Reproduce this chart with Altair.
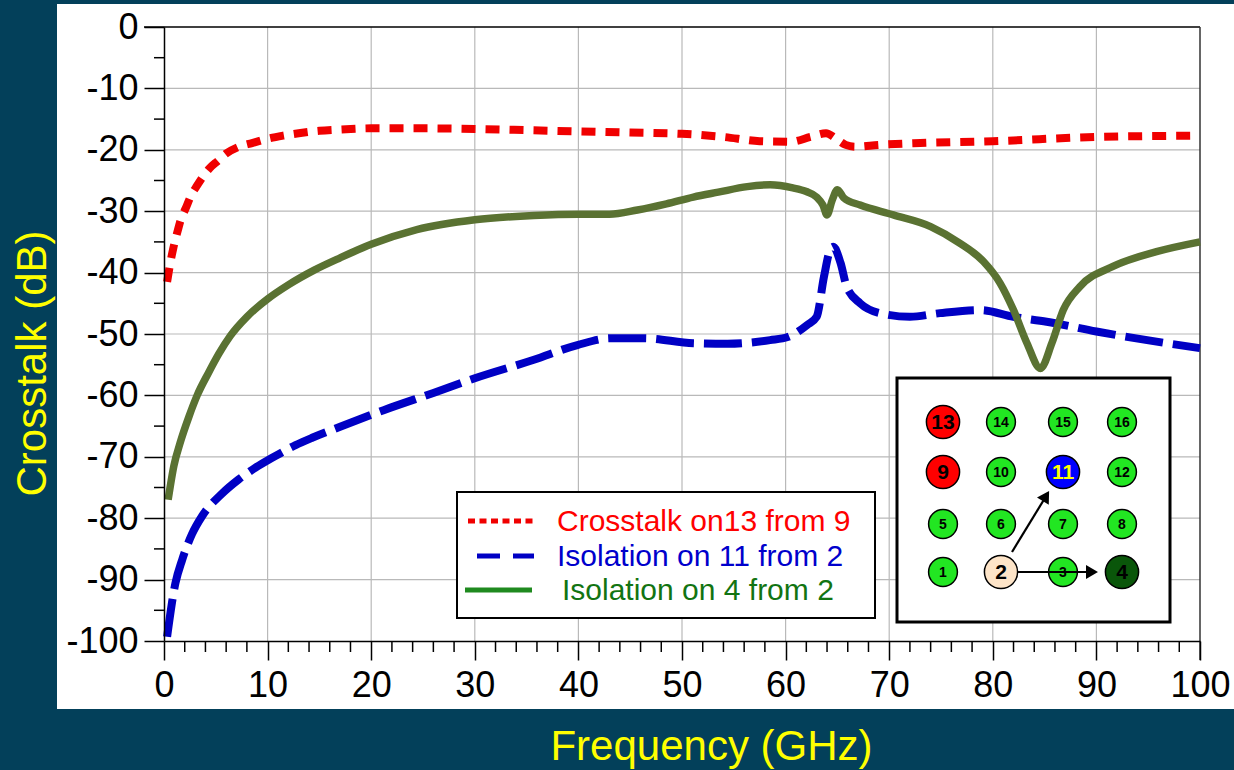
import altair as alt
import pandas as pd

# ---- measured curves: frequency (GHz) and coupling (dB) ----
freq_xtalk_13_9 = [0.3, 0.6, 0.9, 1.2, 1.6, 2.1, 2.6, 3.2, 3.7, 4.4, 5.2, 6.0, 7.1, 8.5, 10, 11.5, 13,
                   15, 17, 20, 25, 30, 35, 40, 45, 50, 54, 57.5, 60.5, 62.4, 63.9, 64.8, 65.8, 66.7,
                   69, 73, 80, 90, 100]
db_xtalk_13_9 = [-41.5, -38.5, -36.0, -34.0, -31.5, -29.5, -27.5, -25.8, -24.5, -23.0, -21.8, -20.6,
                 -19.6, -18.9, -18.2, -17.7, -17.3, -16.9, -16.7, -16.5, -16.5, -16.6, -16.8, -17.0,
                 -17.2, -17.4, -17.9, -18.6, -18.7, -17.9, -17.3, -18.1, -19.2, -19.5, -19.2, -18.9,
                 -18.6, -17.9, -17.7]

freq_iso_11_2 = [0.3, 1.1, 1.75, 2.7, 3.7, 5.6, 7.2, 8.8, 10.4, 12.7, 14.3, 17, 21.2, 26, 30, 35.7,
                 39.9, 43.1, 46.3, 51.1, 54.4, 58.5, 60.2, 62.1, 63, 63.7, 64.3, 64.6, 65.3, 65.9,
                 67.2, 69.1, 72, 74.9, 78.8, 82, 85.2, 90, 94.9, 100]
db_iso_11_2 = [-99.3, -90.6, -86.8, -82.6, -79.6, -76.0, -73.7, -71.8, -70.2, -68.1, -66.9, -65.1,
               -62.4, -59.6, -57.2, -54.2, -51.8, -50.7, -50.7, -51.5, -51.6, -51.0, -50.5, -48.5,
               -47.2, -40.7, -36.3, -35.8, -38.4, -42.3, -45.0, -46.6, -47.2, -46.6, -46.1, -47.2,
               -48.0, -49.6, -51.0, -52.3]

freq_iso_4_2 = [0.4, 0.95, 1.6, 2.4, 3.2, 4.3, 5.3, 6.4, 8.0, 10, 12, 14.5, 17, 20, 24.4, 30, 35.7, 40,
                43, 45.7, 48.5, 51.1, 53.5, 56.3, 58.5, 60.7, 62, 63, 63.6, 64, 64.5, 65, 65.6, 67.2,
                70.4, 74, 76.8, 79.1, 80.7, 82, 83.3, 84.6, 85.7, 86.8, 88.4, 91.6, 95.8, 100]
db_iso_4_2 = [-77.0, -71.5, -67.5, -63.5, -60.0, -56.3, -53.2, -50.3, -47.2, -44.3, -42.0, -39.6,
              -37.6, -35.4, -33.0, -31.4, -30.7, -30.5, -30.5, -29.8, -28.8, -27.7, -26.9, -26.0,
              -25.7, -26.2, -26.8, -27.7, -29.0, -30.6, -28.2, -26.5, -27.8, -29.0, -30.6, -32.5,
              -35.2, -38.2, -41.7, -46.1, -51.5, -55.6, -51.5, -46.1, -42.3, -39.0, -36.6, -35.0]

series_names = ["Crosstalk on13 from 9", "Isolation on 11 from 2", "Isolation on 4 from 2"]
x_ticks = list(range(0, 101, 10))
y_ticks = list(range(-100, 1, 10))
x_minor = [v for v in range(2, 100, 2) if v % 10]
y_minor = list(range(-95, 0, 10))

# pin map: numbers laid out row by row (top row first) on a 4x4 grid
pin_numbers = [13, 14, 15, 16, 9, 10, 11, 12, 5, 6, 7, 8, 1, 2, 3, 4]
pin_row = [0, 0, 0, 0, 1, 1, 1, 1, 2, 2, 2, 2, 3, 3, 3, 3]
pin_col = [0, 1, 2, 3, 0, 1, 2, 3, 0, 1, 2, 3, 0, 1, 2, 3]

# ---- styling ----
FONT = "Liberation Sans"
BG = "#03405a"
W, H = 1036, 614

styles = {
    "Crosstalk on13 from 9": dict(color="#f00000", dash=[14, 10], width=8),
    "Isolation on 11 from 2": dict(color="#0000c4", dash=[38, 10], width=8),
    "Isolation on 4 from 2": dict(color="#5a7232", dash=None, width=7.5),
}
legend_text_colors = ["#ff0000", "#0000cc", "#127412"]

xs = alt.Scale(domain=[0, 100], nice=False, zero=False)
ys = alt.Scale(domain=[-100, 0], nice=False, zero=False)

axis_common = dict(
    domainColor="black", domainWidth=1.5, tickColor="black", tickWidth=1.5,
    labelColor="black", labelFont=FONT, labelFontSize=36, grid=False, zindex=1,
    titleColor="#ffff00", titleFont=FONT, titleFontSize=42, titleFontWeight="normal",
    labelExpr="'' + datum.value", labelFlush=False, labelOverlap=False,
)
x_axis = alt.Axis(values=x_ticks, tickSize=19, labelPadding=8, titleX=547, titleY=118,
                  titleBaseline="alphabetic", titleAlign="center", **axis_common)
y_axis = alt.Axis(values=y_ticks, tickSize=20, labelPadding=6, titleX=-119, titleY=336,
                  titleAngle=270, titleBaseline="alphabetic", titleAlign="center", **axis_common)


def X(field):
    return alt.X(field, type="quantitative", scale=xs, axis=x_axis, title="Frequency (GHz)")


def Y(field):
    return alt.Y(field, type="quantitative", scale=ys, axis=y_axis, title="Crosstalk (dB)")


one = pd.DataFrame({"k": [0]})

# white panel behind the plot
panel = alt.Chart(one).mark_rect(fill="white").encode(
    x=alt.value(-107), x2=alt.value(1070), y=alt.value(-23), y2=alt.value(682))

# grid lines
grid_x = alt.Chart(pd.DataFrame({"f": x_ticks[1:-1]})).mark_rule(
    color="#b9b9b9", strokeWidth=1.2).encode(x=X("f"), y=alt.value(0), y2=alt.value(H))
grid_y = alt.Chart(pd.DataFrame({"d": y_ticks[1:-1]})).mark_rule(
    color="#b9b9b9", strokeWidth=1.2).encode(y=Y("d"), x=alt.value(0), x2=alt.value(W))

# top and right frame
frame_top = alt.Chart(pd.DataFrame({"d": [0]})).mark_rule(color="black", strokeWidth=1.5).encode(
    y=Y("d"), x=alt.value(-20), x2=alt.value(W))
frame_right = alt.Chart(pd.DataFrame({"f": [100]})).mark_rule(color="#333333", strokeWidth=1.5).encode(
    x=X("f"), y=alt.value(0), y2=alt.value(H + 19))

# minor ticks
minor_x = alt.Chart(pd.DataFrame({"f": x_minor})).mark_rule(color="black", strokeWidth=1.5).encode(
    x=X("f"), y=alt.value(H), y2=alt.value(H + 11))
minor_y = alt.Chart(pd.DataFrame({"d": y_minor})).mark_rule(color="black", strokeWidth=1.5).encode(
    y=Y("d"), x=alt.value(-10), x2=alt.value(0))

# data curves
curve_data = {
    "Crosstalk on13 from 9": (freq_xtalk_13_9, db_xtalk_13_9),
    "Isolation on 11 from 2": (freq_iso_11_2, db_iso_11_2),
    "Isolation on 4 from 2": (freq_iso_4_2, db_iso_4_2),
}
curves = []
for name in series_names:
    f, d = curve_data[name]
    st = styles[name]
    mk = dict(color=st["color"], strokeWidth=st["width"], interpolate="monotone",
              strokeCap="butt", strokeJoin="round")
    if st["dash"]:
        mk["strokeDash"] = st["dash"]
    curves.append(alt.Chart(pd.DataFrame({"f": f, "d": d})).mark_line(**mk).encode(
        x=X("f"), y=Y("d")))

# legend box with hand-built entries
leg_box = alt.Chart(one).mark_rect(fill="white", stroke="black", strokeWidth=2).encode(
    x=alt.value(293), x2=alt.value(711), y=alt.value(465), y2=alt.value(591))
leg_row_y = [494, 529, 563]
leg_sym = []
leg_sym_dash = [[7, 4.5], [23, 13], None]
leg_sym_x = [(304, 370), (313, 370), (301, 368)]
for i, name in enumerate(series_names):
    mk = dict(color=styles[name]["color"] if i < 2 else "#1f8a1f", strokeWidth=5, strokeCap="butt")
    if leg_sym_dash[i]:
        mk["strokeDash"] = leg_sym_dash[i]
    leg_sym.append(alt.Chart(one).mark_rule(**mk).encode(
        x=alt.value(leg_sym_x[i][0]), x2=alt.value(leg_sym_x[i][1]), y=alt.value(leg_row_y[i])))
leg_text = alt.Chart(pd.DataFrame({
    "label": series_names, "tx": [393, 393, 398], "ty": leg_row_y, "c": legend_text_colors,
})).mark_text(font=FONT, fontSize=30, align="left", baseline="middle", dy=1).encode(
    x=alt.X("tx:Q", scale=None, axis=None), y=alt.Y("ty:Q", scale=None, axis=None),
    text="label:N", color=alt.Color("c:N", scale=None))

# pin map inset
col_px = [779, 837, 899, 958]
row_px = [395, 445, 497, 545]
special_fill = {13: "#ff0000", 9: "#ff0000", 11: "#0000ff", 2: "#fde4c8", 4: "#0a560a"}
pins = pd.DataFrame({"n": pin_numbers, "r": pin_row, "c": pin_col})
pins["px"] = [col_px[c] for c in pins["c"]]
pins["py"] = [row_px[r] for r in pins["r"]]
pins["fill"] = [special_fill.get(n, "#22e622") for n in pins["n"]]
pins["big"] = [n in special_fill for n in pins["n"]]
pins["sz"] = [1100 if b else 830 for b in pins["big"]]
pins["fs"] = [21 if b else 14 for b in pins["big"]]
pins["tc"] = ["#ffff00" if n == 11 else "black" for n in pins["n"]]
pins["label"] = [str(n) for n in pins["n"]]

inset_box = alt.Chart(one).mark_rect(fill="white", stroke="black", strokeWidth=3).encode(
    x=alt.value(733), x2=alt.value(1006), y=alt.value(351), y2=alt.value(595))

arrows = pd.DataFrame({"x0": [848, 853], "y0": [525, 545], "x1": [884, 928], "y1": [466, 545],
                       "hx": [882, 928], "hy": [469, 545], "ang": [301.5, 0]})
arrow_lines = alt.Chart(arrows).mark_rule(color="black", strokeWidth=2.2).encode(
    x=alt.X("x0:Q", scale=None, axis=None), y=alt.Y("y0:Q", scale=None, axis=None),
    x2="x1:Q", y2="y1:Q")
arrow_heads = alt.Chart(arrows).mark_point(shape="triangle-right", filled=True, color="black",
                                           size=190, opacity=1).encode(
    x=alt.X("hx:Q", scale=None, axis=None), y=alt.Y("hy:Q", scale=None, axis=None),
    angle=alt.Angle("ang:Q", scale=None))

pin_small = pins[~pins["big"]]
pin_big = pins[pins["big"]]
layer_pins = []
for df in (pin_small, pin_big):
    layer_pins.append(alt.Chart(df).mark_point(shape="circle", filled=True, stroke="black",
                                               strokeWidth=1.5, opacity=1).encode(
        x=alt.X("px:Q", scale=None, axis=None), y=alt.Y("py:Q", scale=None, axis=None),
        fill=alt.Fill("fill:N", scale=None), size=alt.Size("sz:Q", scale=None)))
pin_labels = alt.Chart(pins).mark_text(font=FONT, fontWeight="bold", align="center",
                                       baseline="middle", dy=1).encode(
    x=alt.X("px:Q", scale=None, axis=None), y=alt.Y("py:Q", scale=None, axis=None),
    text="label:N", color=alt.Color("tc:N", scale=None), size=alt.Size("fs:Q", scale=None))

# the 2 -> 3 -> 4 arrow passes over pin 3, so the horizontal arrow is drawn after pin 3
chart = alt.layer(
    panel, grid_x, grid_y, frame_top, frame_right, minor_x, minor_y, *curves,
    leg_box, *leg_sym, leg_text,
    inset_box, arrow_lines.transform_filter("datum.y0 != datum.y1"), *layer_pins, pin_labels,
    arrow_lines.transform_filter("datum.y0 == datum.y1"), arrow_heads,
).properties(
    width=W, height=H, background=BG,
    padding={"left": 164, "top": 27, "right": 34, "bottom": 129},
    autosize=alt.AutoSizeParams(type="none"),
).configure_view(stroke="transparent")

chart.save("out.html", embed_options={"renderer": "svg", "actions": False})
